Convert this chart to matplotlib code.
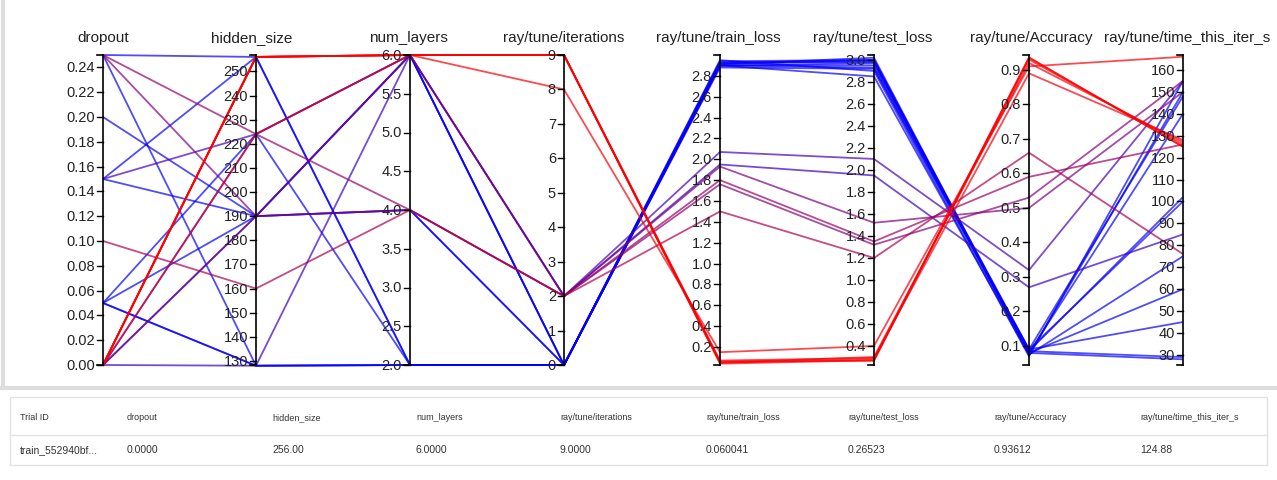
import matplotlib
matplotlib.use("Agg")
import matplotlib.pyplot as plt
import numpy as np

plt.rcParams["font.family"] = ["Liberation Sans", "DejaVu Sans"]

# ── Data ────────────────────────────────────────────────────────────────
columns = ["dropout", "hidden_size", "num_layers", "ray/tune/iterations",
           "ray/tune/train_loss", "ray/tune/test_loss", "ray/tune/Accuracy",
           "ray/tune/time_this_iter_s"]

dropout = [0.0, 0.0, 0.0, 0.0, 0.0, 0.0,
           0.10, 0.25, 0.15, 0.0, 0.25, 0.0,
           0.25, 0.20, 0.15, 0.05, 0.05, 0.05, 0.0, 0.0, 0.25, 0.15, 0.05]
hidden_size = [256, 256, 256, 256, 224, 256,
               160, 224, 224, 128, 190, 190,
               256, 190, 190, 190, 224, 128, 190, 224, 128, 256, 128]
num_layers = [6, 6, 6, 6, 6, 6,
              4, 4, 6, 6, 6, 4,
              2, 4, 4, 6, 6, 2, 6, 2, 2, 2, 2]
iterations = [9, 9, 9, 9, 8, 9,
              2, 2, 2, 2, 2, 2,
              0, 0, 0, 0, 0, 0, 0, 0, 0, 0, 0]
train_loss = [0.04, 0.05, 0.060041, 0.05, 0.15, 0.07,
              1.50, 1.80, 2.07, 1.95, 1.93, 1.76,
              2.92, 2.90, 2.93, 2.95, 2.90, 2.91, 2.88, 2.94, 2.90, 2.90, 2.92]
test_loss = [0.27, 0.28, 0.26523, 0.30, 0.40, 0.29,
             1.20, 1.35, 2.10, 1.95, 1.52, 1.32,
             3.00, 2.95, 2.98, 2.90, 2.85, 3.02, 2.92, 3.00, 2.97, 2.93, 2.99]
accuracy = [0.935, 0.93, 0.93612, 0.92, 0.91, 0.89,
            0.66, 0.59, 0.32, 0.27, 0.50, 0.53,
            0.08, 0.09, 0.085, 0.07, 0.075, 0.08, 0.09, 0.075, 0.085, 0.08, 0.09]
time_this_iter = [125, 126, 124.88, 127, 166, 128,
                  76, 126, 155, 85, 150, 155,
                  28, 100, 102, 155, 150, 60, 45, 75, 29, 140, 148]

series = [dropout, hidden_size, num_layers, iterations,
          train_loss, test_loss, accuracy, time_this_iter]

# axis ranges and ticks
ranges = [(0, 0.25), (128.3, 256.8), (2, 6), (0, 9),
          (0.027, 3.0), (0.227, 3.045), (0.045, 0.943), (25.4, 166.8)]
ticks = [np.arange(0, 0.245, 0.02), np.arange(130, 251, 10), np.arange(2, 6.01, 0.5),
         np.arange(0, 10), np.arange(0.2, 2.81, 0.2), np.arange(0.4, 3.01, 0.2),
         np.arange(0.1, 0.91, 0.1), np.arange(30, 161, 10)]
fmts = ["{:.2f}", "{:.0f}", "{:.1f}", "{:.0f}", "{:.1f}", "{:.1f}", "{:.1f}", "{:.0f}"]

table_header = ["Trial ID", "dropout", "hidden_size", "num_layers", "ray/tune/iterations",
                "ray/tune/train_loss", "ray/tune/test_loss", "ray/tune/Accuracy",
                "ray/tune/time_this_iter_s"]
table_row = ["train_552940bf...", "0.0000", "256.00", "6.0000", "9.0000",
             "0.060041", "0.26523", "0.93612", "124.88"]

# ── Layout (pixel coords of the figure) ─────────────────────────────────
W, H = 1277, 481
axis_x = [103, 256, 410, 564, 720, 874, 1029, 1183]
label_x = [103, 252, 408, 564, 718, 873, 1031, 1187]
y_top, y_bot = 56, 366

fig = plt.figure(figsize=(W / 100, H / 100), dpi=100)
ax = fig.add_axes([0, 0, 1, 1])
ax.set_xlim(0, W)
ax.set_ylim(H, 0)
ax.axis("off")


def to_y(v, i):
    lo, hi = ranges[i]
    return y_bot - (v - lo) / (hi - lo) * (y_bot - y_top)


# polylines, coloured blue -> red by accuracy
acc_lo, acc_hi = min(accuracy), max(accuracy)
order = np.argsort(accuracy)
for k in order:
    t = (accuracy[k] - acc_lo) / (acc_hi - acc_lo)
    color = (t, 0.0, 1.0 - t)
    ys = [to_y(series[i][k], i) for i in range(len(series))]
    ax.plot(axis_x, ys, color=color, lw=1.3, alpha=0.7, solid_capstyle="butt")

# axes, ticks, labels
for i, x in enumerate(axis_x):
    ax.plot([x, x], [y_top, y_bot], color="black", lw=1.2)
    ax.plot([x - 6, x], [y_top, y_top], color="black", lw=1.2)
    ax.plot([x - 6, x], [y_bot, y_bot], color="black", lw=1.2)
    for tv in ticks[i]:
        ty = to_y(tv, i)
        ax.plot([x - 6, x], [ty, ty], color="black", lw=1.0)
        ax.text(x - 8, ty, fmts[i].format(tv), ha="right", va="center",
                fontsize=10.5, color="#222222")
    ax.text(label_x[i], 38, columns[i], ha="center", va="center",
            fontsize=11, color="#222222")

# separators and table
ax.plot([0, W], [389, 389], color="#dddddd", lw=3)
ax.plot([3, 3], [0, 389], color="#dddddd", lw=3)
ax.add_patch(plt.Rectangle((10, 398), 1257, 68, fill=False, ec="#e3e3e3", lw=1))
ax.plot([10, 1267], [436, 436], color="#e3e3e3", lw=1)
col_x = [20, 127, 272, 416, 560, 706, 848, 994, 1140]
for cx, h, v in zip(col_x, table_header, table_row):
    ax.text(cx, 418, h, ha="left", va="center", fontsize=6.5, color="#333333")
    ax.text(cx, 450, v, ha="left", va="center", fontsize=7.5, color="#333333")

fig.savefig("out.png", dpi=100)
